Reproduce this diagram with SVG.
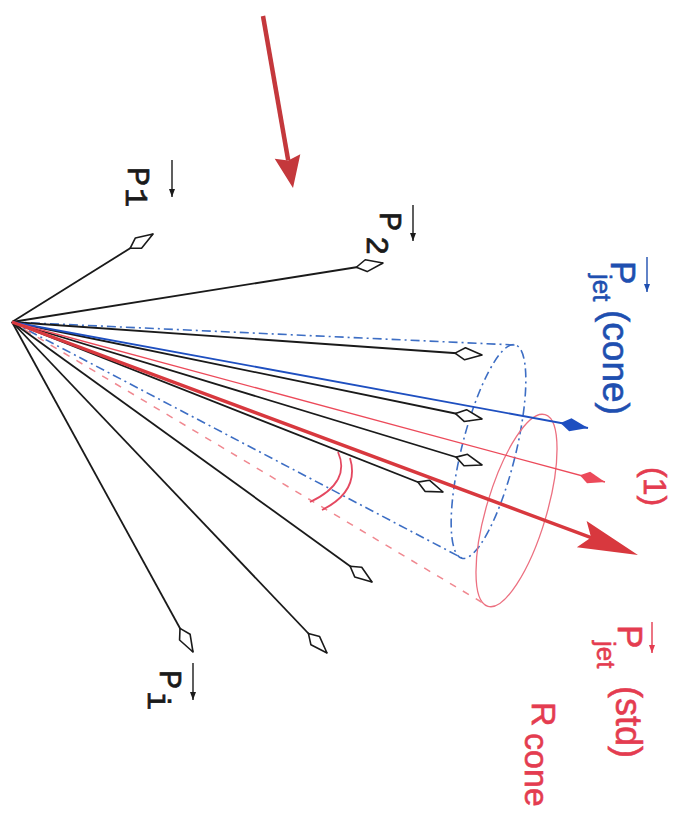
<svg xmlns="http://www.w3.org/2000/svg" width="677" height="821" viewBox="0 0 677 821">
<style>
.vec{stroke:#1a1a1a;stroke-width:1.8;fill:none;marker-end:url(#od)}
.bdd{stroke:#3d6ec4;stroke-width:1.6;fill:none;stroke-dasharray:9 4 2 4}
.rdash{stroke:#f08890;stroke-width:1.5;fill:none;stroke-dasharray:7 8}
.mono{font-family:"Liberation Mono","DejaVu Sans Mono",monospace;font-size:32px;fill:#1a1a1a;stroke:#1a1a1a;stroke-width:0.7}
.sans{font-family:"Liberation Sans",Arial,sans-serif;fill:#1f4fb0;stroke:#1f4fb0;stroke-width:0.6}
.red{fill:#e43c50;stroke:#e43c50}
.arc{stroke:#e44860;stroke-width:1.8;fill:none}
</style>
<defs>
<marker id="od" markerUnits="userSpaceOnUse" markerWidth="40" markerHeight="20" viewBox="-32 -10 40 20" refX="0" refY="0" orient="auto" overflow="visible">
<path d="M0,0 L-17,-6 L-27,0 L-17,6 Z" fill="#fff" stroke="#1a1a1a" stroke-width="1.6" stroke-linejoin="round"/>
</marker>
<marker id="bh" markerUnits="userSpaceOnUse" markerWidth="40" markerHeight="20" viewBox="-32 -10 40 20" refX="0" refY="0" orient="auto" overflow="visible">
<path d="M0,0 L-18,-6.5 L-28,0 L-18,6.5 Z" fill="#1e4fc0"/>
</marker>
<marker id="rh" markerUnits="userSpaceOnUse" markerWidth="40" markerHeight="20" viewBox="-32 -10 40 20" refX="0" refY="0" orient="auto" overflow="visible">
<path d="M0,0 L-17,-6 L-26,0 L-17,6 Z" fill="#ec4a5a"/>
</marker>
<marker id="bigr" markerUnits="userSpaceOnUse" markerWidth="80" markerHeight="40" viewBox="-20 -20 80 40" refX="0" refY="0" orient="auto" overflow="visible">
<path d="M50,0 L-10,-14 L0,0 L-10,14 Z" fill="#d8383e"/>
</marker>
<marker id="topr" markerUnits="userSpaceOnUse" markerWidth="50" markerHeight="40" viewBox="-10 -20 50 40" refX="0" refY="0" orient="auto" overflow="visible">
<path d="M28,0 L-4,-13 L0,0 L-4,13 Z" fill="#c4383c"/>
</marker>
<marker id="sak" markerUnits="userSpaceOnUse" markerWidth="12" markerHeight="8" viewBox="-10 -4 12 8" refX="0" refY="0" orient="auto" overflow="visible">
<path d="M0,0 L-8,-3 L-8,3 Z" fill="#1a1a1a"/>
</marker>
<marker id="sab" markerUnits="userSpaceOnUse" markerWidth="12" markerHeight="8" viewBox="-10 -4 12 8" refX="0" refY="0" orient="auto" overflow="visible">
<path d="M0,0 L-8,-3 L-8,3 Z" fill="#1f4fb0"/>
</marker>
<marker id="sar" markerUnits="userSpaceOnUse" markerWidth="12" markerHeight="8" viewBox="-10 -4 12 8" refX="0" refY="0" orient="auto" overflow="visible">
<path d="M0,0 L-8,-3 L-8,3 Z" fill="#e43c50"/>
</marker>
</defs>
<rect width="677" height="821" fill="#ffffff"/>

<g id="cone-blue">
<ellipse cx="0" cy="0" rx="27" ry="110" transform="translate(488.5,451.5) rotate(14)" class="bdd"/>
</g>
<g id="cone-red">
<ellipse cx="0" cy="0" rx="30" ry="100" transform="translate(516.5,510.5) rotate(16.6)" fill="none" stroke="#ec7080" stroke-width="1.3"/>
</g>

<g id="connectors">
<line x1="12" y1="322" x2="515" y2="345" class="bdd"/>
<line x1="12" y1="322" x2="462" y2="558" class="bdd"/>
<line x1="12" y1="322" x2="488" y2="606" class="rdash"/>
<line x1="12" y1="322" x2="153" y2="234" class="vec"/>
<line x1="12" y1="322" x2="383" y2="263" class="vec"/>
<line x1="12" y1="322" x2="482" y2="355" class="vec"/>
<line x1="12" y1="322" x2="482" y2="419" class="vec"/>
<line x1="12" y1="322" x2="482" y2="465" class="vec"/>
<line x1="12" y1="322" x2="443" y2="492" class="vec"/>
<line x1="12" y1="322" x2="372" y2="582" class="vec"/>
<line x1="12" y1="322" x2="327" y2="653" class="vec"/>
<line x1="12" y1="322" x2="193" y2="652" class="vec"/>
<line x1="12" y1="322" x2="588" y2="428" stroke="#1e4fc0" stroke-width="1.8" marker-end="url(#bh)"/>
<line x1="12" y1="322" x2="605" y2="482" stroke="#ec4a5a" stroke-width="1.3" marker-end="url(#rh)"/>
<line x1="12" y1="322" x2="591.1" y2="537.6" stroke="#d8383e" stroke-width="3.4" marker-end="url(#bigr)"/>
<line x1="263" y1="16" x2="288.2" y2="160.4" stroke="#c4383c" stroke-width="4.5" marker-end="url(#topr)"/>
</g>

<g id="angle-arcs">
<path d="M338,452 C346,470 340,488 310,502" class="arc"/>
<path d="M350,458 C356,478 350,496 322,510" class="arc"/>
</g>

<g id="label-p1">
<text class="mono" transform="translate(128,167) rotate(90)">P</text>
<text class="mono" transform="translate(126,188) rotate(90)">1</text>
<line x1="172" y1="160" x2="172" y2="197" stroke="#1a1a1a" stroke-width="1.4" marker-end="url(#sak)"/>
</g>
<g id="label-p2">
<text class="mono" transform="translate(380,212) rotate(90)">P</text>
<text class="mono" transform="translate(367,236) rotate(90)">2</text>
<line x1="413" y1="205" x2="413" y2="241" stroke="#1a1a1a" stroke-width="1.4" marker-end="url(#sak)"/>
</g>
<g id="label-pi">
<text class="mono" transform="translate(160,670) rotate(90)">P</text>
<text class="mono" transform="translate(148,691) rotate(90)">i</text>
<line x1="193" y1="663" x2="193" y2="700" stroke="#1a1a1a" stroke-width="1.4" marker-end="url(#sak)"/>
</g>
<g id="label-pjet-cone">
<text class="sans" font-size="35" transform="translate(611,261) rotate(90)">P</text>
<text class="sans" font-size="26" transform="translate(593,274) rotate(90)">jet</text>
<text class="sans" font-size="37" transform="translate(603,310) rotate(90)">(cone)</text>
<line x1="647" y1="257" x2="647" y2="292" stroke="#1f4fb0" stroke-width="1.4" marker-end="url(#sab)"/>
</g>
<g id="label-1">
<text class="sans red" font-size="32" transform="translate(644,467) rotate(90)">(1)</text>
</g>
<g id="label-pjet-std">
<text class="sans red" font-size="35" transform="translate(618,625) rotate(90)">P</text>
<text class="sans red" font-size="26" transform="translate(597,641) rotate(90)">jet</text>
<text class="sans red" font-size="36" transform="translate(616,686) rotate(90)">(std)</text>
<line x1="652" y1="622" x2="652" y2="653" stroke="#e43c50" stroke-width="1.4" marker-end="url(#sar)"/>
</g>
<g id="label-rcone">
<text class="sans red" font-size="34" transform="translate(532,702) rotate(90)">R</text>
<text class="sans red" font-size="34" transform="translate(525,733) rotate(90)">cone</text>
</g>
</svg>
